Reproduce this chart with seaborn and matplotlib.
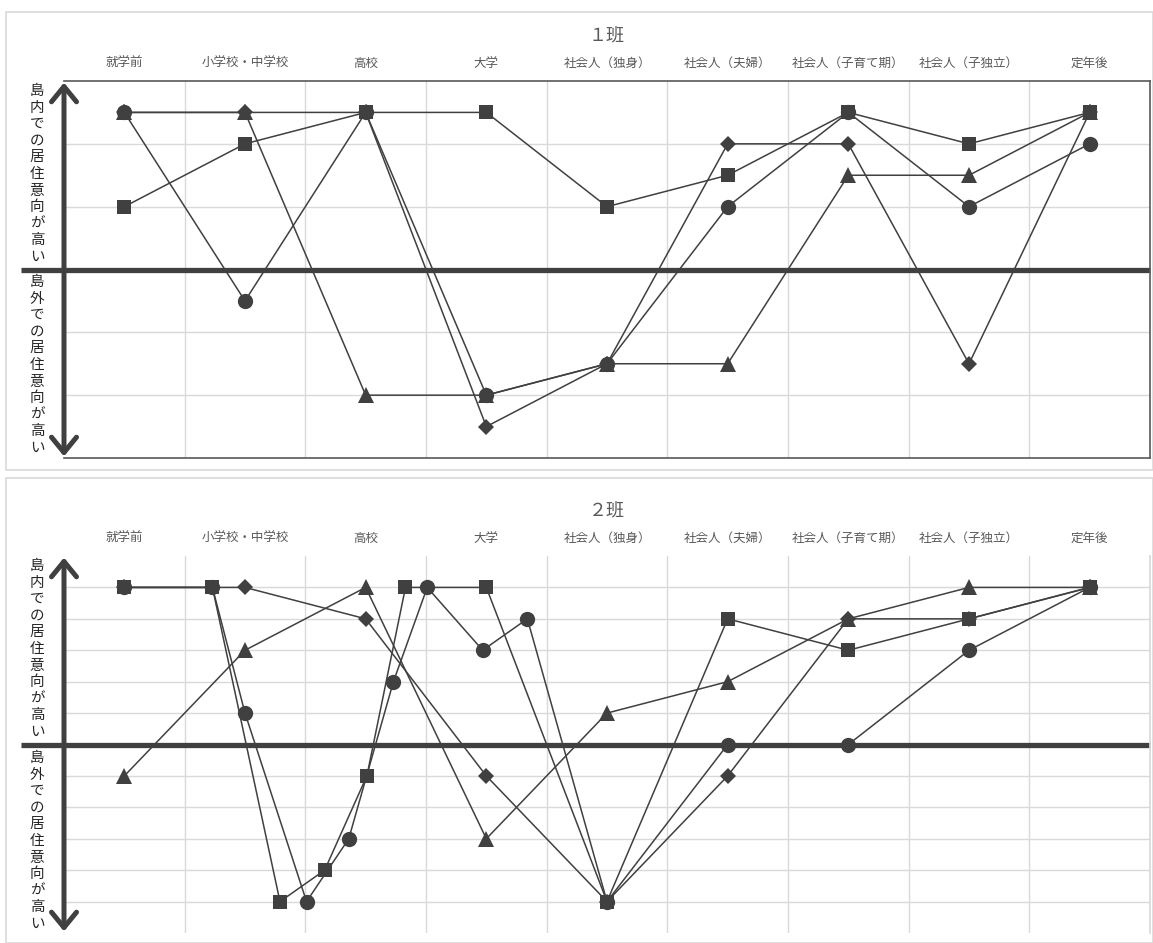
import matplotlib
matplotlib.use('Agg')
import matplotlib.pyplot as plt
import seaborn as sns
from matplotlib.patches import Rectangle

# life stages (x axis categories)
stages = ['就学前', '小学校・中学校', '高校', '大学', '社会人（独身）',
          '社会人（夫婦）', '社会人（子育て期）', '社会人（子独立）', '定年後']
stage_pos = list(range(len(stages)))

# 1班 : one value per stage
circle1 = [5, -1, 5, -4, -3, 2, 5, 2, 4]
square1 = [2, 4, 5, 5, 2, 3, 5, 4, 5]
triangle1 = [5, 5, -4, -4, -3, -3, 3, 3, 5]
diamond1 = [5, 5, 5, -5, -3, 4, 4, -3, 5]

# 2班 : some members have extra points between stages
circle2_x = [0, 0.73, 1.0, 1.51, 1.86, 2.23, 2.51, 2.97, 3.34, 4, 5, 6, 7, 8]
circle2_y = [5, 5, 1, -5, -3, 2, 5, 3, 4, -5, 0, 0, 3, 5]
square2_x = [0, 0.73, 1.29, 1.66, 2.01, 2.33, 3.0, 4, 5, 6, 7, 8]
square2_y = [5, 5, -5, -4, -1, 5, 5, -5, 4, 3, 4, 5]
triangle2_y = [-1, 3, 5, -3, 1, 2, 4, 5, 5]
diamond2_y = [5, 5, 4, -1, -5, -1, 4, 4, 5]

label_up = '島内での居住意向が高い'
label_down = '島外での居住意向が高い'

sns.set_theme(style='white')
plt.rcParams['font.family'] = ['Noto Sans CJK JP', 'DejaVu Sans']

dark = '#404040'
W, H = 1153, 943
fig = plt.figure(figsize=(W / 100, H / 100), dpi=100)

# panel frames
for (y0, y1) in [(12, 470), (478, 943)]:
    fig.patches.append(Rectangle((6 / W, 1 - y1 / H), (W - 6) / W, (y1 - y0) / H,
                                 transform=fig.transFigure, fill=False,
                                 edgecolor='#d9d9d9', lw=1.2))


def draw_series(ax, x, y, marker, ms):
    sns.lineplot(x=x, y=y, ax=ax, color=dark, lw=1.1, marker=marker,
                 markersize=ms, markeredgewidth=0, sort=False, estimator=None,
                 zorder=3)


def setup_axes(ax, title, ygrid):
    ax.set_xlim(-0.5, 8.5)
    ax.set_ylim(-6, 6)
    ax.set_xticks(stage_pos)
    ax.set_xticklabels(stages, fontsize=9, color='#595959')
    ax.xaxis.tick_top()
    ax.tick_params(axis='x', length=0, pad=8)
    ax.set_yticks([])
    ax.set_xlabel('')
    ax.set_ylabel('')
    for v in [i + 0.5 for i in range(8)]:
        ax.axvline(v, color='#d9d9d9', lw=1, zorder=0)
    for v in ygrid:
        ax.axhline(v, color='#d9d9d9', lw=1, zorder=0)
    # zero line reaching out to the left of the plot
    ax.plot([-0.86, 8.5], [0, 0], color=dark, lw=3.8, clip_on=False, zorder=2,
            solid_capstyle='butt')
    # double arrow on the left
    ax.annotate('', xy=(-0.5, 5.95), xytext=(-0.5, -5.95),
                arrowprops=dict(arrowstyle='<->,head_length=0.55,head_width=0.45',
                                lw=3.6, color=dark, mutation_scale=20,
                                shrinkA=0, shrinkB=0),
                annotation_clip=False, zorder=4)
    ax.set_title(title, fontsize=13, color='#595959', pad=29)


def vertical_label(text, x_px, y_top_px, pitch=16.6):
    for i, ch in enumerate(text):
        fig.text(x_px / W, 1 - (y_top_px + i * pitch) / H, ch, fontsize=10.5,
                 color='#262626', ha='center', va='center')


# ---- 1班 ----
ax1 = fig.add_axes([64 / W, 1 - 458 / H, (1150 - 64) / W, (458 - 81) / H])
setup_axes(ax1, '１班', [-4, -2, 2, 4])
draw_series(ax1, stage_pos, diamond1, 'D', 8.3)
draw_series(ax1, stage_pos, triangle1, '^', 11)
draw_series(ax1, stage_pos, circle1, 'o', 11)
draw_series(ax1, stage_pos, square1, 's', 10.5)
for side in ['top', 'right', 'bottom']:
    ax1.spines[side].set_color('#595959')
    ax1.spines[side].set_linewidth(1.2)
ax1.spines['left'].set_visible(False)

# ---- 2班 ----
ax2 = fig.add_axes([64 / W, 1 - 933 / H, (1150 - 64) / W, (933 - 556) / H])
setup_axes(ax2, '２班', [-5, -4, -3, -2, -1, 1, 2, 3, 4, 5])
draw_series(ax2, stage_pos, diamond2_y, 'D', 8.3)
draw_series(ax2, stage_pos, triangle2_y, '^', 11)
draw_series(ax2, circle2_x, circle2_y, 'o', 11)
draw_series(ax2, square2_x, square2_y, 's', 10.5)
for side in ['top', 'bottom', 'left']:
    ax2.spines[side].set_visible(False)
ax2.spines['right'].set_color('#d9d9d9')

vertical_label(label_up, 37, 91)
vertical_label(label_down, 37, 282)
vertical_label(label_up, 37, 566)
vertical_label(label_down, 37, 758)

fig.savefig('out.png', dpi=100)
